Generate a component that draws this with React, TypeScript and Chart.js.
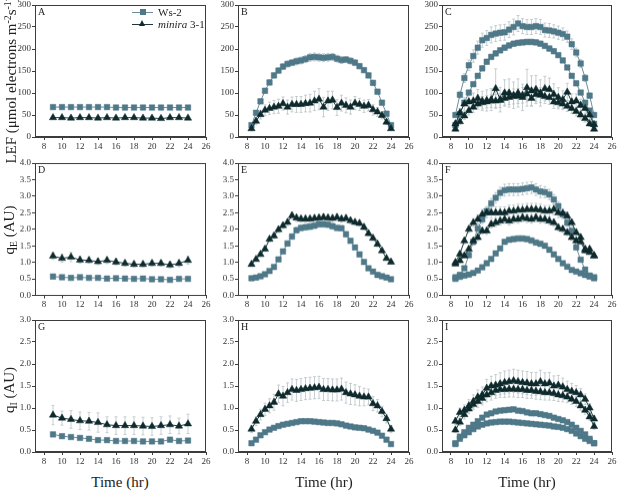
import { useEffect, useRef } from "react";
import { Chart, registerables } from "chart.js";

Chart.register(...registerables);

const SERIF = "'Liberation Serif', 'Times New Roman', serif";
const WS2_COLOR = "#4f7888";
const WS2_LINE = "#6d8e9a";
const MIN_COLOR = "#0e2a2d";
const MIN_LINE = "#1c383b";
const ERR_COLOR = "#b9c3c7";
const AXIS_COLOR = "#3c3c3c";

// sampling times (hr)
const hourly = [9, 10, 11, 12, 13, 14, 15, 16, 17, 18, 19, 20, 21, 22, 23, 24];
const halfHourly = [
  8.5, 9, 9.5, 10, 10.5, 11, 11.5, 12, 12.5, 13, 13.5, 14, 14.5, 15, 15.5, 16,
  16.5, 17, 17.5, 18, 18.5, 19, 19.5, 20, 20.5, 21, 21.5, 22, 22.5, 23, 23.5, 24,
];
const timeTicks = [8, 10, 12, 14, 16, 18, 20, 22, 24, 26];
const lefTicks = [0, 50, 100, 150, 200, 250, 300];
const qeTicks = [0, 0.5, 1, 1.5, 2, 2.5, 3, 3.5, 4];
const qiTicks = [0, 0.5, 1, 1.5, 2, 2.5, 3];

// A - LEF, constant light
const lefAWs2 = [68, 68, 68, 68, 68, 68, 68, 67, 67, 67, 67, 67, 67, 67, 67, 67];
const lefAWs2Err = [2, 2, 2, 2, 2, 2, 2, 2, 2, 2, 2, 2, 2, 2, 2, 2];
const lefAMin = [44, 44, 43, 44, 44, 43, 44, 43, 44, 44, 43, 43, 42, 44, 44, 43];
const lefAMinErr = [3, 3, 3, 3, 3, 3, 3, 3, 3, 3, 3, 3, 3, 3, 3, 3];

// B - LEF, sinusoidal light
const lefBWs2 = [27, 55, 81, 105, 124, 140, 151, 160, 166, 169, 172, 174, 177, 181, 182, 181, 180, 181, 182, 178, 175, 176, 173, 169, 161, 152, 140, 123, 103, 78, 53, 27];
const lefBWs2Err = [4, 5, 5, 6, 6, 6, 6, 7, 7, 7, 8, 8, 8, 9, 9, 9, 9, 9, 8, 8, 8, 7, 7, 7, 6, 6, 6, 6, 5, 5, 4, 4];
const lefBMin = [19, 36, 51, 61, 65, 68, 70, 76, 68, 74, 74, 74, 76, 77, 82, 86, 68, 82, 84, 67, 77, 72, 68, 77, 74, 70, 72, 62, 57, 49, 34, 19];
const lefBMinErr = [5, 8, 10, 12, 14, 15, 16, 15, 16, 17, 18, 18, 19, 20, 22, 24, 22, 22, 20, 18, 18, 17, 16, 15, 14, 14, 13, 12, 10, 8, 6, 4];

// C - LEF, fluctuating light (two curves per line)
const lefCWs2a = [50, 96, 134, 163, 184, 203, 220, 225, 232, 235, 237, 238, 244, 250, 258, 252, 250, 250, 252, 250, 243, 242, 240, 237, 234, 228, 211, 192, 167, 134, 94, 50];
const lefCWs2aErr = [5, 8, 10, 12, 14, 15, 16, 17, 18, 18, 18, 18, 18, 18, 18, 17, 17, 17, 17, 17, 16, 16, 15, 15, 14, 13, 12, 10, 9, 8, 6, 5];
const lefCWs2b = [27, 52, 78, 101, 120, 139, 156, 171, 182, 190, 197, 203, 208, 212, 214, 215, 216, 216, 215, 212, 207, 201, 195, 186, 174, 158, 139, 122, 101, 78, 60, 30];
const lefCWs2bErr = [3, 4, 4, 5, 5, 5, 6, 6, 6, 6, 6, 6, 6, 6, 6, 6, 6, 6, 6, 6, 6, 6, 6, 5, 5, 5, 5, 5, 4, 4, 3, 3];
const lefCMinA = [30, 55, 75, 80, 82, 88, 82, 83, 85, 110, 85, 100, 100, 95, 100, 90, 112, 105, 108, 100, 110, 108, 97, 90, 85, 102, 80, 82, 72, 65, 50, 28];
const lefCMinAErr = [6, 10, 14, 16, 18, 20, 22, 24, 25, 45, 28, 30, 32, 30, 32, 30, 42, 34, 32, 30, 28, 26, 24, 22, 20, 20, 18, 16, 14, 12, 10, 6];
const lefCMinB = [18, 35, 48, 60, 68, 75, 78, 80, 82, 82, 83, 88, 90, 92, 93, 95, 98, 88, 97, 95, 92, 90, 80, 78, 75, 70, 65, 58, 50, 42, 30, 18];
const lefCMinBErr = [4, 6, 8, 10, 12, 12, 14, 14, 15, 15, 16, 16, 16, 17, 17, 18, 18, 18, 17, 17, 16, 16, 15, 14, 13, 12, 11, 10, 9, 8, 6, 4];

// D - qE, constant light
const qeDWs2 = [0.57, 0.55, 0.53, 0.55, 0.53, 0.53, 0.51, 0.52, 0.51, 0.5, 0.51, 0.49, 0.49, 0.47, 0.5, 0.5];
const qeDWs2Err = [0.03, 0.03, 0.03, 0.03, 0.03, 0.03, 0.03, 0.03, 0.03, 0.03, 0.03, 0.03, 0.03, 0.03, 0.03, 0.03];
const qeDMin = [1.19, 1.12, 1.16, 1.07, 1.06, 1.02, 1.06, 1.01, 0.97, 0.94, 0.94, 0.97, 0.97, 0.92, 0.97, 1.06];
const qeDMinErr = [0.1, 0.12, 0.14, 0.1, 0.09, 0.09, 0.1, 0.09, 0.09, 0.08, 0.08, 0.09, 0.09, 0.09, 0.1, 0.12];

// E - qE, sinusoidal light
const qeEWs2 = [0.52, 0.54, 0.58, 0.64, 0.74, 0.86, 1.09, 1.33, 1.57, 1.78, 1.97, 2.04, 2.06, 2.08, 2.11, 2.15, 2.15, 2.14, 2.09, 2.04, 2.03, 1.85, 1.65, 1.45, 1.24, 1.01, 0.82, 0.72, 0.62, 0.58, 0.54, 0.49];
const qeEWs2Err = [0.03, 0.03, 0.03, 0.04, 0.04, 0.05, 0.06, 0.07, 0.08, 0.08, 0.09, 0.09, 0.09, 0.09, 0.09, 0.09, 0.09, 0.09, 0.09, 0.08, 0.08, 0.08, 0.07, 0.07, 0.06, 0.05, 0.05, 0.04, 0.04, 0.03, 0.03, 0.03];
const qeEMin = [0.94, 1.09, 1.24, 1.4, 1.7, 1.8, 1.99, 2.11, 2.21, 2.41, 2.34, 2.31, 2.31, 2.31, 2.33, 2.34, 2.36, 2.34, 2.33, 2.36, 2.31, 2.33, 2.26, 2.21, 2.18, 2.06, 1.87, 1.73, 1.55, 1.35, 1.12, 1.01];
const qeEMinErr = [0.05, 0.06, 0.06, 0.07, 0.08, 0.08, 0.09, 0.09, 0.1, 0.1, 0.1, 0.1, 0.1, 0.1, 0.1, 0.1, 0.1, 0.1, 0.1, 0.1, 0.1, 0.1, 0.1, 0.09, 0.09, 0.08, 0.08, 0.07, 0.07, 0.06, 0.06, 0.05];

// F - qE, fluctuating light
const qeFWs2a = [0.55, 0.62, 0.82, 1.22, 1.62, 2.02, 2.3, 2.55, 2.78, 2.95, 3.1, 3.18, 3.2, 3.2, 3.2, 3.22, 3.24, 3.26, 3.2, 3.14, 3.12, 3.05, 2.9, 2.7, 2.45, 2.2, 1.95, 1.45, 1.08, 0.78, 0.6, 0.55];
const qeFWs2aErr = [0.03, 0.05, 0.06, 0.08, 0.1, 0.12, 0.13, 0.14, 0.15, 0.16, 0.17, 0.18, 0.18, 0.18, 0.18, 0.18, 0.18, 0.18, 0.18, 0.18, 0.17, 0.16, 0.15, 0.14, 0.13, 0.12, 0.1, 0.08, 0.06, 0.05, 0.04, 0.03];
const qeFWs2b = [0.5, 0.56, 0.6, 0.63, 0.68, 0.75, 0.85, 0.97, 1.1, 1.27, 1.42, 1.62, 1.68, 1.7, 1.72, 1.72, 1.7, 1.66, 1.6, 1.56, 1.5, 1.38, 1.24, 1.1, 0.97, 0.87, 0.77, 0.72, 0.67, 0.62, 0.57, 0.52];
const qeFWs2bErr = [0.02, 0.02, 0.03, 0.03, 0.03, 0.04, 0.04, 0.05, 0.05, 0.06, 0.06, 0.07, 0.07, 0.08, 0.08, 0.08, 0.08, 0.08, 0.07, 0.07, 0.07, 0.06, 0.06, 0.05, 0.05, 0.04, 0.04, 0.03, 0.03, 0.03, 0.02, 0.02];
const qeFMinA = [1.0, 1.25, 1.65, 2.0, 2.2, 2.3, 2.45, 2.5, 2.5, 2.5, 2.5, 2.5, 2.55, 2.55, 2.58, 2.58, 2.6, 2.6, 2.6, 2.58, 2.55, 2.55, 2.6, 2.5, 2.48, 2.4, 2.2, 1.9, 1.75, 1.4, 1.4, 1.2];
const qeFMinAErr = [0.05, 0.07, 0.09, 0.1, 0.12, 0.14, 0.15, 0.16, 0.17, 0.18, 0.18, 0.18, 0.18, 0.18, 0.18, 0.18, 0.18, 0.18, 0.18, 0.18, 0.17, 0.17, 0.16, 0.15, 0.14, 0.12, 0.11, 0.1, 0.09, 0.08, 0.07, 0.06];
const qeFMinB = [0.95, 1.05, 1.2, 1.4, 1.65, 1.75, 1.95, 1.95, 2.15, 2.2, 2.25, 2.3, 2.25, 2.3, 2.3, 2.35, 2.32, 2.3, 2.35, 2.3, 2.3, 2.25, 2.2, 2.05, 2.0, 1.9, 1.75, 1.65, 1.62, 1.35, 1.3, 1.2];
const qeFMinBErr = [0.05, 0.06, 0.07, 0.08, 0.09, 0.1, 0.1, 0.11, 0.11, 0.12, 0.12, 0.12, 0.12, 0.12, 0.12, 0.12, 0.12, 0.12, 0.12, 0.12, 0.12, 0.11, 0.11, 0.1, 0.1, 0.09, 0.09, 0.08, 0.08, 0.07, 0.06, 0.05];

// G - qI, constant light
const qiGWs2 = [0.4, 0.36, 0.34, 0.32, 0.3, 0.27, 0.27, 0.25, 0.25, 0.25, 0.24, 0.24, 0.24, 0.28, 0.25, 0.26];
const qiGWs2Err = [0.03, 0.03, 0.03, 0.03, 0.03, 0.03, 0.03, 0.03, 0.03, 0.03, 0.03, 0.03, 0.03, 0.03, 0.03, 0.03];
const qiGMin = [0.84, 0.77, 0.74, 0.71, 0.7, 0.67, 0.62, 0.6, 0.6, 0.6, 0.59, 0.58, 0.6, 0.62, 0.59, 0.64];
const qiGMinErr = [0.22, 0.16, 0.2, 0.2, 0.2, 0.22, 0.18, 0.2, 0.2, 0.2, 0.2, 0.2, 0.2, 0.2, 0.18, 0.22];

// H - qI, sinusoidal light
const qiHWs2 = [0.2, 0.28, 0.38, 0.45, 0.51, 0.55, 0.59, 0.62, 0.64, 0.66, 0.68, 0.7, 0.7, 0.7, 0.69, 0.68, 0.67, 0.66, 0.66, 0.65, 0.63, 0.6, 0.58, 0.56, 0.55, 0.54, 0.51, 0.48, 0.44, 0.37, 0.28, 0.18];
const qiHWs2Err = [0.02, 0.02, 0.02, 0.02, 0.02, 0.02, 0.02, 0.02, 0.02, 0.02, 0.02, 0.02, 0.02, 0.02, 0.02, 0.02, 0.02, 0.02, 0.02, 0.02, 0.02, 0.02, 0.02, 0.02, 0.02, 0.02, 0.02, 0.02, 0.02, 0.02, 0.02, 0.02];
const qiHMin = [0.52, 0.7, 0.85, 0.97, 1.05, 1.13, 1.32, 1.27, 1.35, 1.42, 1.4, 1.42, 1.44, 1.45, 1.46, 1.47, 1.42, 1.42, 1.41, 1.41, 1.43, 1.35, 1.32, 1.3, 1.27, 1.25, 1.25, 1.1, 1.05, 0.92, 0.76, 0.52];
const qiHMinErr = [0.08, 0.1, 0.12, 0.14, 0.16, 0.18, 0.2, 0.22, 0.22, 0.24, 0.25, 0.25, 0.25, 0.25, 0.25, 0.25, 0.25, 0.25, 0.25, 0.25, 0.25, 0.24, 0.24, 0.23, 0.22, 0.2, 0.18, 0.16, 0.14, 0.12, 0.1, 0.08];

// I - qI, fluctuating light
const qiIWs2a = [0.2, 0.35, 0.45, 0.55, 0.62, 0.7, 0.78, 0.85, 0.88, 0.92, 0.94, 0.95, 0.96, 0.97, 0.94, 0.93, 0.9, 0.88, 0.88, 0.86, 0.84, 0.82, 0.78, 0.75, 0.72, 0.68, 0.62, 0.55, 0.48, 0.4, 0.3, 0.2];
const qiIWs2aErr = [0.02, 0.03, 0.03, 0.03, 0.04, 0.04, 0.04, 0.04, 0.04, 0.04, 0.04, 0.04, 0.04, 0.04, 0.04, 0.04, 0.04, 0.04, 0.04, 0.04, 0.04, 0.04, 0.04, 0.04, 0.04, 0.03, 0.03, 0.03, 0.03, 0.03, 0.02, 0.02];
const qiIWs2b = [0.18, 0.3, 0.38, 0.45, 0.52, 0.58, 0.62, 0.65, 0.67, 0.68, 0.69, 0.69, 0.69, 0.68, 0.67, 0.66, 0.65, 0.64, 0.63, 0.62, 0.61, 0.6, 0.58, 0.57, 0.55, 0.52, 0.48, 0.42, 0.36, 0.3, 0.25, 0.2];
const qiIWs2bErr = [0.02, 0.02, 0.02, 0.02, 0.02, 0.02, 0.02, 0.02, 0.02, 0.02, 0.02, 0.02, 0.02, 0.02, 0.02, 0.02, 0.02, 0.02, 0.02, 0.02, 0.02, 0.02, 0.02, 0.02, 0.02, 0.02, 0.02, 0.02, 0.02, 0.02, 0.02, 0.02];
const qiIMinA = [0.7, 0.9, 0.95, 1.05, 1.15, 1.25, 1.3, 1.45, 1.5, 1.52, 1.55, 1.58, 1.6, 1.62, 1.6, 1.58, 1.57, 1.55, 1.55, 1.6, 1.55, 1.57, 1.5, 1.52, 1.48, 1.42, 1.38, 1.35, 1.3, 1.2, 1.0, 0.75];
const qiIMinAErr = [0.08, 0.1, 0.12, 0.14, 0.15, 0.16, 0.18, 0.2, 0.22, 0.24, 0.25, 0.26, 0.26, 0.26, 0.26, 0.26, 0.26, 0.26, 0.26, 0.26, 0.25, 0.24, 0.23, 0.22, 0.2, 0.19, 0.18, 0.16, 0.14, 0.12, 0.1, 0.08];
const qiIMinB = [0.5, 0.68, 0.85, 0.98, 1.08, 1.15, 1.22, 1.3, 1.35, 1.4, 1.42, 1.42, 1.43, 1.43, 1.42, 1.42, 1.4, 1.4, 1.38, 1.37, 1.35, 1.35, 1.33, 1.3, 1.28, 1.25, 1.2, 1.15, 1.05, 0.95, 0.8, 0.58];
const qiIMinBErr = [0.06, 0.08, 0.1, 0.11, 0.12, 0.14, 0.15, 0.16, 0.17, 0.18, 0.18, 0.18, 0.18, 0.18, 0.18, 0.18, 0.18, 0.18, 0.18, 0.18, 0.17, 0.17, 0.16, 0.15, 0.14, 0.13, 0.12, 0.11, 0.1, 0.09, 0.08, 0.06];

type Series = { x: number[]; y: number[]; err: number[]; genotype: "ws2" | "minira" };

const ws2 = (x: number[], y: number[], err: number[]): Series => ({ x, y, err, genotype: "ws2" });
const minira = (x: number[], y: number[], err: number[]): Series => ({ x, y, err, genotype: "minira" });

const panels = [
  { letter: "A", col: 0, row: 0, series: [ws2(hourly, lefAWs2, lefAWs2Err), minira(hourly, lefAMin, lefAMinErr)] },
  { letter: "B", col: 1, row: 0, series: [ws2(halfHourly, lefBWs2, lefBWs2Err), minira(halfHourly, lefBMin, lefBMinErr)] },
  {
    letter: "C", col: 2, row: 0,
    series: [ws2(halfHourly, lefCWs2a, lefCWs2aErr), ws2(halfHourly, lefCWs2b, lefCWs2bErr), minira(halfHourly, lefCMinA, lefCMinAErr), minira(halfHourly, lefCMinB, lefCMinBErr)],
  },
  { letter: "D", col: 0, row: 1, series: [ws2(hourly, qeDWs2, qeDWs2Err), minira(hourly, qeDMin, qeDMinErr)] },
  { letter: "E", col: 1, row: 1, series: [ws2(halfHourly, qeEWs2, qeEWs2Err), minira(halfHourly, qeEMin, qeEMinErr)] },
  {
    letter: "F", col: 2, row: 1,
    series: [ws2(halfHourly, qeFWs2a, qeFWs2aErr), ws2(halfHourly, qeFWs2b, qeFWs2bErr), minira(halfHourly, qeFMinA, qeFMinAErr), minira(halfHourly, qeFMinB, qeFMinBErr)],
  },
  { letter: "G", col: 0, row: 2, series: [ws2(hourly, qiGWs2, qiGWs2Err), minira(hourly, qiGMin, qiGMinErr)] },
  { letter: "H", col: 1, row: 2, series: [ws2(halfHourly, qiHWs2, qiHWs2Err), minira(halfHourly, qiHMin, qiHMinErr)] },
  {
    letter: "I", col: 2, row: 2,
    series: [ws2(halfHourly, qiIWs2a, qiIWs2aErr), ws2(halfHourly, qiIWs2b, qiIWs2bErr), minira(halfHourly, qiIMinA, qiIMinAErr), minira(halfHourly, qiIMinB, qiIMinBErr)],
  },
];

// plot-area placement on the page
const cols = [
  { left: 35, width: 171 },
  { left: 238, width: 171 },
  { left: 442, width: 170 },
];
const rows = [
  { top: 5, height: 132, ticks: lefTicks, max: 300, decimals: 0 },
  { top: 163, height: 131.5, ticks: qeTicks, max: 4, decimals: 1 },
  { top: 320, height: 132, ticks: qiTicks, max: 3, decimals: 1 },
];

const PAD_L = 26;
const PAD_T = 7;
const PAD_R = 9;
const PAD_B = 18;

const errorBars = {
  id: "errorBars",
  beforeDatasetsDraw(chart: any) {
    const { ctx } = chart;
    const x = chart.scales.x;
    const y = chart.scales.y;
    ctx.save();
    ctx.strokeStyle = ERR_COLOR;
    ctx.lineWidth = 0.8;
    chart.data.datasets.forEach((ds: any) => {
      const errs: number[] | undefined = ds.errors;
      if (!errs) return;
      ds.data.forEach((p: { x: number; y: number }, i: number) => {
        const e = errs[i];
        if (!e) return;
        const px = x.getPixelForValue(p.x);
        const hi = y.getPixelForValue(p.y + e);
        const lo = y.getPixelForValue(p.y - e);
        ctx.beginPath();
        ctx.moveTo(px, hi);
        ctx.lineTo(px, lo);
        ctx.moveTo(px - 1.5, hi);
        ctx.lineTo(px + 1.5, hi);
        ctx.moveTo(px - 1.5, lo);
        ctx.lineTo(px + 1.5, lo);
        ctx.stroke();
      });
    });
    ctx.restore();
  },
};

const frame = {
  id: "frame",
  afterDraw(chart: any) {
    const { ctx, chartArea } = chart;
    ctx.save();
    ctx.strokeStyle = AXIS_COLOR;
    ctx.lineWidth = 1;
    ctx.strokeRect(
      Math.round(chartArea.left) + 0.5,
      Math.round(chartArea.top) + 0.5,
      Math.round(chartArea.right - chartArea.left) - 1,
      Math.round(chartArea.bottom - chartArea.top) - 1
    );
    ctx.restore();
  },
};

type PanelProps = {
  letter: string;
  left: number;
  top: number;
  width: number;
  height: number;
  yMax: number;
  yTicks: number[];
  decimals: number;
  series: Series[];
};

function Panel({ letter, left, top, width, height, yMax, yTicks, decimals, series }: PanelProps) {
  const canvasRef = useRef<HTMLCanvasElement>(null);

  useEffect(() => {
    if (!canvasRef.current) return;
    const tickFont = { family: SERIF, size: 9 };
    const chart = new Chart(canvasRef.current, {
      type: "scatter",
      data: {
        datasets: series.map((s) => {
          const isWs2 = s.genotype === "ws2";
          return {
            data: s.x.map((x, i) => ({ x, y: s.y[i] })),
            errors: s.err,
            showLine: true,
            borderColor: isWs2 ? WS2_LINE : MIN_LINE,
            borderWidth: 1,
            pointStyle: isWs2 ? "rect" : "triangle",
            pointRadius: isWs2 ? 3.9 : 4.2,
            pointBackgroundColor: isWs2 ? WS2_COLOR : MIN_COLOR,
            pointBorderColor: isWs2 ? WS2_COLOR : MIN_COLOR,
            pointBorderWidth: 0.5,
            order: isWs2 ? 1 : 0,
          } as any;
        }),
      },
      options: {
        animation: false,
        responsive: true,
        maintainAspectRatio: false,
        layout: { padding: { top: PAD_T, right: PAD_R, left: 0, bottom: 0 } },
        plugins: { legend: { display: false }, tooltip: { enabled: false } },
        scales: {
          x: {
            type: "linear",
            min: 7,
            max: 26,
            afterBuildTicks: (axis: any) => {
              axis.ticks = timeTicks.map((v) => ({ value: v }));
            },
            afterFit: (axis: any) => {
              axis.height = PAD_B;
              axis.paddingLeft = 0;
              axis.paddingRight = 0;
            },
            ticks: { font: tickFont, color: "#333", padding: 1, autoSkip: false, maxRotation: 0, minRotation: 0 },
            grid: { drawOnChartArea: false, drawTicks: true, tickLength: 3, color: AXIS_COLOR },
            border: { display: true, color: AXIS_COLOR, width: 1 },
          },
          y: {
            type: "linear",
            min: 0,
            max: yMax,
            afterBuildTicks: (axis: any) => {
              axis.ticks = yTicks.map((v) => ({ value: v }));
            },
            afterFit: (axis: any) => {
              axis.width = PAD_L;
              axis.paddingTop = 0;
              axis.paddingBottom = 0;
            },
            ticks: {
              font: tickFont,
              color: "#333",
              padding: 1,
              autoSkip: false,
              callback: (v: any) => Number(v).toFixed(decimals),
            },
            grid: { drawOnChartArea: false, drawTicks: true, tickLength: 3, color: AXIS_COLOR },
            border: { display: true, color: AXIS_COLOR, width: 1 },
          },
        },
      } as any,
      plugins: [errorBars, frame],
    });
    return () => chart.destroy();
  }, [series, yMax, yTicks, decimals]);

  return (
    <>
      <div
        style={{
          position: "absolute",
          left: left - PAD_L,
          top: top - PAD_T,
          width: width + PAD_L + PAD_R,
          height: height + PAD_T + PAD_B,
        }}
      >
        <canvas ref={canvasRef}></canvas>
      </div>
      <div style={{ position: "absolute", left: left + 3, top: top + 2, font: `10px ${SERIF}`, lineHeight: 1, color: "#222" }}>
        {letter}
      </div>
    </>
  );
}

const rotated = (cx: number, cy: number): React.CSSProperties => ({
  position: "absolute",
  left: cx,
  top: cy,
  transform: "translate(-50%, -50%) rotate(-90deg)",
  whiteSpace: "nowrap",
  font: `15px ${SERIF}`,
  color: "#222",
});

const centered = (cx: number, cy: number): React.CSSProperties => ({
  position: "absolute",
  left: cx,
  top: cy,
  transform: "translate(-50%, -50%)",
  whiteSpace: "nowrap",
  font: `15px ${SERIF}`,
  color: "#222",
});

export default function App() {
  const supStyle: React.CSSProperties = { fontSize: "0.65em", verticalAlign: "0.55em" };
  const subStyle: React.CSSProperties = { fontSize: "0.65em", verticalAlign: "-0.25em" };
  return (
    <div
      style={{
        position: "absolute",
        left: 0,
        top: 0,
        width: 617,
        height: 491,
        overflow: "hidden",
        background: "#fff",
        fontFamily: SERIF,
      }}
    >
      {panels.map((p) => {
        const c = cols[p.col];
        const r = rows[p.row];
        return (
          <Panel
            key={p.letter}
            letter={p.letter}
            left={c.left}
            top={r.top}
            width={c.width}
            height={r.height}
            yMax={r.max}
            yTicks={r.ticks}
            decimals={r.decimals}
            series={p.series}
          />
        );
      })}

      {/* legend in panel A */}
      <div style={{ position: "absolute", left: 132, top: 12, width: 21, height: 1, background: WS2_LINE }} />
      <div style={{ position: "absolute", left: 140, top: 9.2, width: 5.6, height: 5.6, background: WS2_COLOR }} />
      <div style={{ position: "absolute", left: 158, top: 6.5, font: `11px ${SERIF}`, lineHeight: 1, color: "#222" }}>Ws-2</div>
      <div style={{ position: "absolute", left: 132, top: 24, width: 21, height: 1, background: MIN_LINE }} />
      <div
        style={{
          position: "absolute",
          left: 139.2,
          top: 20.3,
          width: 0,
          height: 0,
          borderLeft: "3.6px solid transparent",
          borderRight: "3.6px solid transparent",
          borderBottom: `6.3px solid ${MIN_COLOR}`,
        }}
      />
      <div style={{ position: "absolute", left: 158, top: 18.5, font: `11px ${SERIF}`, lineHeight: 1, color: "#222" }}>
        <i>minira</i> 3-1
      </div>

      {/* axis titles */}
      <div style={rotated(11, 80)}>
        LEF (μmol electrons m<span style={supStyle}>-2</span>s<span style={supStyle}>-1</span>)
      </div>
      <div style={rotated(10, 230)}>
        q<span style={subStyle}>E</span> (AU)
      </div>
      <div style={rotated(10, 390)}>
        q<span style={subStyle}>I</span> (AU)
      </div>
      <div style={centered(120, 482)}>Time (hr)</div>
      <div style={centered(324, 482)}>Time (hr)</div>
      <div style={centered(527, 482)}>Time (hr)</div>
    </div>
  );
}
